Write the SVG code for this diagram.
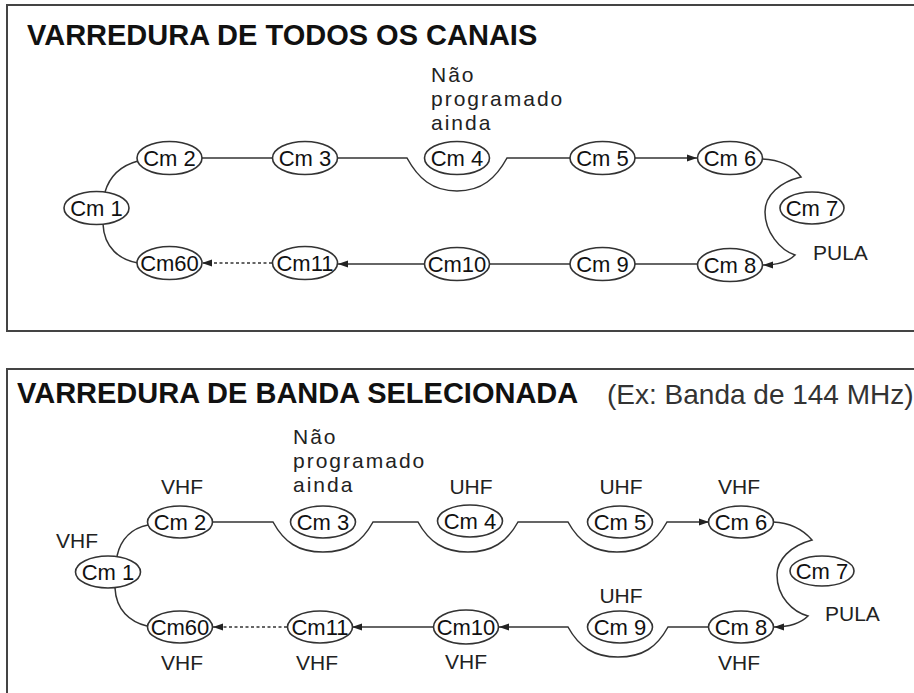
<svg xmlns="http://www.w3.org/2000/svg" width="914" height="693" viewBox="0 0 914 693">
<style>
.frame{fill:none;stroke:#444;stroke-width:2}
.title{font-family:"Liberation Sans",Arial,sans-serif;font-size:29px;font-weight:bold;fill:#111}
.sub{font-family:"Liberation Sans",Arial,sans-serif;font-size:28px;fill:#333}
.node ellipse{fill:#fff;stroke:#333;stroke-width:1.6}
.node text{font-family:"Liberation Sans",Arial,sans-serif;font-size:22px;fill:#111;text-anchor:middle}
.note{font-family:"Liberation Sans",Arial,sans-serif;font-size:21px;fill:#222;letter-spacing:2px}
.band{font-family:"Liberation Sans",Arial,sans-serif;font-size:21px;fill:#222;text-anchor:middle}
.conn path{fill:none;stroke:#333;stroke-width:1.5}
.conn .dash{stroke-dasharray:3 2.5}
</style>
<defs>
<marker id="arr" markerUnits="userSpaceOnUse" markerWidth="10" markerHeight="8" refX="10" refY="4" orient="auto">
<path d="M0,0.5 L10,4 L0,7.5 z" fill="#222"/>
</marker>
</defs>
<rect width="914" height="693" fill="#fff"/>

<!-- Top panel -->
<rect class="frame" x="7" y="5" width="920" height="326"/>
<text class="title" x="27" y="45">VARREDURA DE TODOS OS CANAIS</text>
<text class="note" x="431" y="82">Não</text>
<text class="note" x="431" y="106">programado</text>
<text class="note" x="431" y="130">ainda</text>
<text class="band" x="813" y="260" style="text-anchor:start">PULA</text>

<g class="conn" id="conn-top">
<path d="M105,192 C110,175 123,165 138,161"/>
<path d="M103,224 C104,248 120,260 138,263"/>
<path d="M202,158 H273"/>
<path d="M338,158 H407 C418,178 432,191 457,191 C482,191 496,178 507,158 H570"/>
<path d="M635,158 H697" marker-end="url(#arr)"/>
<path d="M762,159 C785,160 796,170 801,177 C780,182 765,195 765,212 C765,232 780,250 795,255 C787,263 775,265 763,265" marker-end="url(#arr)"/>
<path d="M698,264 H635"/>
<path d="M570,264 H490"/>
<path d="M424,264 H338" marker-end="url(#arr)"/>
<path class="dash" d="M272,263 H202" marker-end="url(#arr)"/>
</g>

<g class="node" id="t-cm1"><ellipse cx="96.5" cy="208" rx="32.5" ry="16.5"/><text x="96.5" y="216">Cm 1</text></g>
<g class="node" id="t-cm2"><ellipse cx="169.5" cy="158" rx="32.5" ry="16.5"/><text x="169.5" y="166">Cm 2</text></g>
<g class="node" id="t-cm3"><ellipse cx="305" cy="158" rx="32.5" ry="16.5"/><text x="305" y="166">Cm 3</text></g>
<g class="node" id="t-cm4"><ellipse cx="457" cy="158" rx="32.5" ry="16.5"/><text x="457" y="166">Cm 4</text></g>
<g class="node" id="t-cm5"><ellipse cx="602.5" cy="158" rx="32.5" ry="16.5"/><text x="602.5" y="166">Cm 5</text></g>
<g class="node" id="t-cm6"><ellipse cx="730" cy="158" rx="32.5" ry="16.5"/><text x="730" y="166">Cm 6</text></g>
<g class="node" id="t-cm7"><ellipse cx="812" cy="208" rx="32" ry="16"/><text x="812" y="216">Cm 7</text></g>
<g class="node" id="t-cm8"><ellipse cx="730" cy="265" rx="32.5" ry="16.5"/><text x="730" y="273">Cm 8</text></g>
<g class="node" id="t-cm9"><ellipse cx="602.5" cy="264" rx="32.5" ry="16.5"/><text x="602.5" y="272">Cm 9</text></g>
<g class="node" id="t-cm10"><ellipse cx="457" cy="264" rx="32.5" ry="16.5"/><text x="457" y="272">Cm10</text></g>
<g class="node" id="t-cm11"><ellipse cx="305" cy="263" rx="32.5" ry="16.5"/><text x="305" y="271">Cm11</text></g>
<g class="node" id="t-cm60"><ellipse cx="169.5" cy="263" rx="32.5" ry="16.5"/><text x="169.5" y="271">Cm60</text></g>

<!-- Bottom panel -->
<rect class="frame" x="7" y="369" width="920" height="400"/>
<text class="title" x="17" y="403">VARREDURA DE BANDA SELECIONADA</text>
<text class="sub" x="607" y="404">(Ex: Banda de 144 MHz)</text>
<text class="note" x="293" y="444">Não</text>
<text class="note" x="293" y="468">programado</text>
<text class="note" x="293" y="492">ainda</text>
<text class="band" x="182" y="494">VHF</text>
<text class="band" x="77" y="548">VHF</text>
<text class="band" x="471" y="494">UHF</text>
<text class="band" x="621" y="494">UHF</text>
<text class="band" x="739" y="494">VHF</text>
<text class="band" x="621" y="603">UHF</text>
<text class="band" x="825" y="621" style="text-anchor:start">PULA</text>
<text class="band" x="739" y="670">VHF</text>
<text class="band" x="466" y="669">VHF</text>
<text class="band" x="317" y="670">VHF</text>
<text class="band" x="182" y="670">VHF</text>

<g class="conn" id="conn-bottom">
<path d="M117,556 C121,538 133,528 148,525"/>
<path d="M115,588 C116,610 130,622 147,626"/>
<path d="M212,522 H273 C284,542 298,552 323,552 C348,552 362,542 373,522 H418 C429,542 444,552 468,552 C492,552 507,542 518,522 H568 C579,542 594,552 617,552 C641,552 656,542 667,522 H709" marker-end="url(#arr)"/>
<path d="M773,522 C795,523 806,533 812,540 C790,546 777,560 777,575 C777,597 793,612 808,616 C800,624 788,627 774,627" marker-end="url(#arr)"/>
<path d="M708,627 H668 C657,647 643,657 618,657 C594,657 579,647 568,627 H499" marker-end="url(#arr)"/>
<path d="M433,627 H352" marker-end="url(#arr)"/>
<path class="dash" d="M287,627 H213" marker-end="url(#arr)"/>
</g>

<g class="node" id="b-cm1"><ellipse cx="108" cy="572" rx="32.5" ry="16"/><text x="108" y="580">Cm 1</text></g>
<g class="node" id="b-cm2"><ellipse cx="180" cy="522" rx="32.5" ry="16"/><text x="180" y="530">Cm 2</text></g>
<g class="node" id="b-cm3"><ellipse cx="323" cy="522" rx="32.5" ry="16"/><text x="323" y="530">Cm 3</text></g>
<g class="node" id="b-cm4"><ellipse cx="470" cy="521" rx="32.5" ry="16"/><text x="470" y="529">Cm 4</text></g>
<g class="node" id="b-cm5"><ellipse cx="620" cy="522" rx="32.5" ry="16"/><text x="620" y="530">Cm 5</text></g>
<g class="node" id="b-cm6"><ellipse cx="741" cy="522" rx="32.5" ry="16"/><text x="741" y="530">Cm 6</text></g>
<g class="node" id="b-cm7"><ellipse cx="822" cy="571" rx="32" ry="15"/><text x="822" y="579">Cm 7</text></g>
<g class="node" id="b-cm8"><ellipse cx="741" cy="627" rx="32.5" ry="16"/><text x="741" y="635">Cm 8</text></g>
<g class="node" id="b-cm9"><ellipse cx="620" cy="627" rx="32.5" ry="16"/><text x="620" y="635">Cm 9</text></g>
<g class="node" id="b-cm10"><ellipse cx="466" cy="627" rx="32.5" ry="17"/><text x="466" y="635">Cm10</text></g>
<g class="node" id="b-cm11"><ellipse cx="320" cy="627" rx="32.5" ry="16"/><text x="320" y="635">Cm11</text></g>
<g class="node" id="b-cm60"><ellipse cx="180" cy="627" rx="32.5" ry="16"/><text x="180" y="635">Cm60</text></g>
</svg>
